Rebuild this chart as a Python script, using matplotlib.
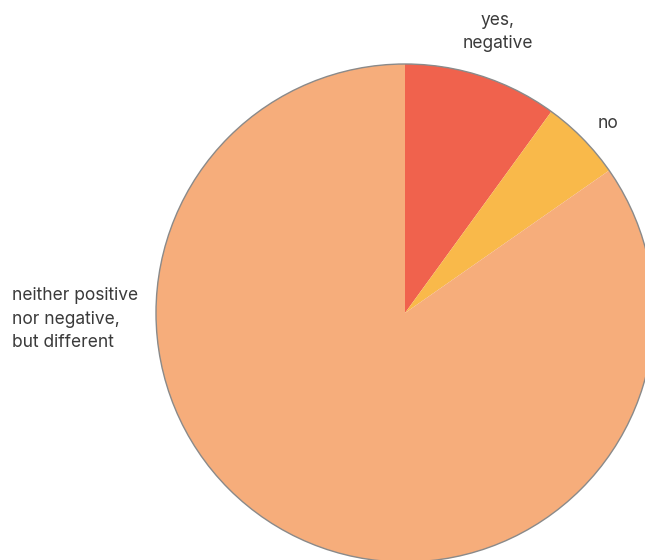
import matplotlib
matplotlib.use("Agg")
from matplotlib import pyplot as plt
from matplotlib.patches import Circle

# 数据
labels = ["yes,\nnegative", "no", "neither positive\nnor negative,\nbut different"]
values = [10, 5.3, 84.7]
colors = ["#F0624D", "#F9B94A", "#F6AD7B"]

W, H = 645, 560
fig = plt.figure(figsize=(W / 100, H / 100), dpi=100)
ax = fig.add_axes([0, 0, 1, 1])

cx, cy, r = 405, 313, 249
# y轴反转, 所以 startangle=-90 + counterclock 在画面上是从顶部顺时针
ax.pie(values, colors=colors, startangle=-90, counterclock=True,
       center=(cx, cy), radius=r, wedgeprops={"linewidth": 0}, frame=True)
ax.set_xlim(0, W)
ax.set_ylim(H, 0)
ax.set_aspect("equal")
ax.axis("off")
ax.add_patch(Circle((cx, cy), r, fill=False, edgecolor="#8a8a8a", linewidth=1.0))

font = dict(family=["Inter", "DejaVu Sans"], fontsize=12.5, fontweight="normal",
            color="#3a3a3a", linespacing=1.5)
ax.text(498, 32, labels[0], ha="center", va="center", **font)
ax.text(608, 123, labels[1], ha="center", va="center", **font)
ax.text(12, 319, labels[2], ha="left", va="center", **font)

fig.savefig("out.png", dpi=100)
